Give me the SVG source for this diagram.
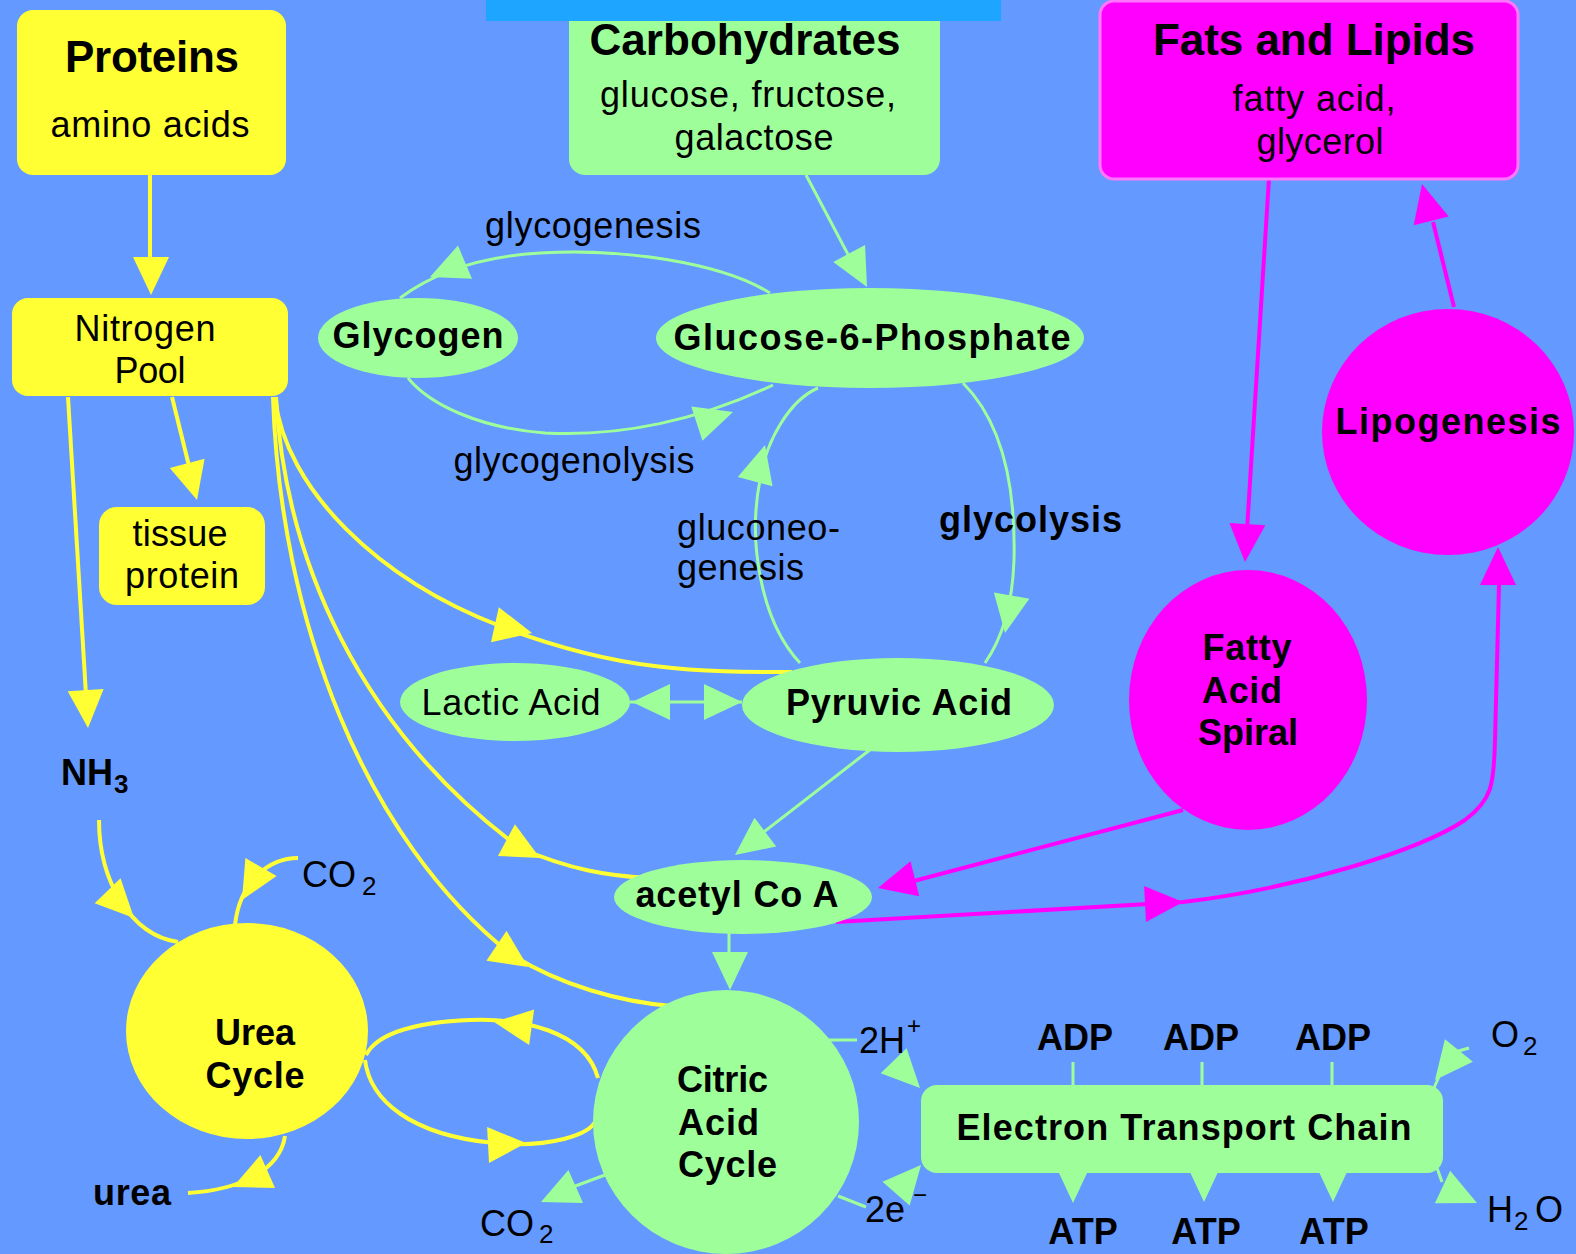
<svg xmlns="http://www.w3.org/2000/svg" xmlns:xlink="http://www.w3.org/1999/xlink" width="1576" height="1254" viewBox="0 0 1576 1254">
<style>
.y{fill:#FFFF33}
.g{fill:#9EFF9A}
.m{fill:#FF00FF}
.ly{stroke:#FFFF33;stroke-width:4;fill:none}
.lg{stroke:#9EFF9A;stroke-width:3;fill:none}
.lm{stroke:#FF00FF;stroke-width:4;fill:none}
text{font-family:"Liberation Sans",Arial,sans-serif;fill:#000;font-size:36px}
.b{font-weight:bold}
.c{text-anchor:middle}
.t{font-size:44px;font-weight:bold;text-anchor:middle}
.sub{font-size:26px}
</style>
<defs>
<path id="ah" d="M0,0 L-38,-18 L-38,18 Z"/>
<path id="ahs" d="M0,0 L-30,-14 L-30,14 Z"/>
</defs>
<rect width="1576" height="1254" fill="#6499FF"/>

<g id="connectors">
 <g id="yellow-lines">
  <path class="ly" d="M150,175 L150,262"/>
  <path class="ly" d="M172,397 L190,470"/>
  <path class="ly" d="M68,397 L86,695"/>
  <path class="ly" d="M275,397 C285,490 380,580 500,626 S700,672 792,672"/>
  <path class="ly" d="M276,397 C285,560 360,730 520,848 C570,870 610,876 648,878"/>
  <path class="ly" d="M273,397 C280,620 365,840 512,955 C560,985 620,1002 672,1006"/>
  <path class="ly" d="M99,820 C99,880 130,935 178,942"/>
  <path class="ly" d="M298,858 C270,858 240,880 235,925"/>
  <path class="ly" d="M285,1136 C280,1170 240,1190 188,1193"/>
  <path class="ly" d="M598,1078 C585,1030 520,1018 470,1020 C420,1022 378,1032 366,1055"/>
  <path class="ly" d="M365,1060 C370,1100 410,1135 494,1143 C550,1148 590,1135 596,1120"/>
 </g>
 <g id="green-lines">
  <path class="lg" d="M806,175 L852,262"/>
  <path class="lg" d="M770,293 C720,262 620,248 540,253 C490,256 440,268 400,298"/>
  <path class="lg" d="M408,378 C430,405 480,428 545,433 C620,437 700,420 773,385"/>
  <path class="lg" d="M800,663 C760,620 748,540 760,480 C766,440 790,400 818,388"/>
  <path class="lg" d="M963,383 C1000,420 1016,480 1014,560 C1013,590 1008,630 985,663"/>
  <path class="lg" d="M630,702 L742,702"/>
  <path class="lg" d="M871,749 L760,835"/>
  <path class="lg" d="M729,933 L729,960"/>
  <path class="lg" d="M605,1175 L570,1188"/>
  <path class="lg" stroke-width="2" d="M829,1040 L857,1040"/>
  <path class="lg" stroke-width="2" d="M838,1196 L866,1207"/>
  <path class="lg" d="M1073,1062 L1073,1086 M1202,1062 L1202,1086 M1332,1062 L1332,1086"/>
  <path class="lg" d="M1433,1090 L1442,1070 M1455,1052 L1469,1048"/>
  <path class="lg" d="M1437,1168 L1442,1182"/>
 </g>
 <g id="magenta-lines">
  <path class="lm" d="M1269,178 L1247,530"/>
  <path class="lm" d="M1454,307 L1433,222"/>
  <path class="lm" d="M1183,810 L910,882"/>
  <path class="lm" d="M836,922 L1183,902 C1300,888 1420,850 1465,820 C1492,800 1494,785 1495,740 L1499,585"/>
 </g>
 <g id="arrowheads">
  <use href="#ah" class="y" transform="translate(151,295) rotate(90)"/>
  <use href="#ah" class="y" transform="translate(197,500) rotate(75)"/>
  <use href="#ah" class="y" transform="translate(88,728) rotate(86.5)"/>
  <use href="#ah" class="y" transform="translate(532,633) rotate(12.5)"/>
  <use href="#ah" class="y" transform="translate(540,858) rotate(28)"/>
  <use href="#ah" class="y" transform="translate(528,967) rotate(34)"/>
  <use href="#ah" class="y" transform="translate(134,918) rotate(46)"/>
  <use href="#ah" class="y" transform="translate(242,900) rotate(120)"/>
  <use href="#ah" class="y" transform="translate(233,1187) rotate(156)"/>
  <use href="#ah" class="y" transform="translate(494,1022) rotate(188)"/>
  <use href="#ah" class="y" transform="translate(526,1143) rotate(-3)"/>

  <use href="#ah" class="g" transform="translate(867,287) rotate(62)"/>
  <use href="#ah" class="g" transform="translate(430,277) rotate(157)"/>
  <use href="#ah" class="g" transform="translate(733,412) rotate(-18)"/>
  <use href="#ah" class="g" transform="translate(765,445) rotate(-75)"/>
  <use href="#ah" class="g" transform="translate(1005,633) rotate(100)"/>
  <use href="#ah" class="g" transform="translate(632,702) rotate(180)"/>
  <use href="#ah" class="g" transform="translate(742,702)"/>
  <use href="#ah" class="g" transform="translate(735,855) rotate(143)"/>
  <use href="#ah" class="g" transform="translate(730,990) rotate(90)"/>
  <use href="#ah" class="g" transform="translate(541,1202) rotate(156)"/>
  <use href="#ah" class="g" transform="translate(920,1088) rotate(46)"/>
  <use href="#ah" class="g" transform="translate(921,1165) rotate(-49)"/>
  <use href="#ah" class="g" transform="translate(1435,1080) rotate(129)"/>
  <use href="#ah" class="g" transform="translate(1477,1203) rotate(25)"/>
  <use href="#ahs" class="g" transform="translate(1073,1203) rotate(90)"/>
  <use href="#ahs" class="g" transform="translate(1204,1202) rotate(90)"/>
  <use href="#ahs" class="g" transform="translate(1333,1202) rotate(90)"/>

  <use href="#ah" class="m" transform="translate(1245,562) rotate(93.6)"/>
  <use href="#ah" class="m" transform="translate(1422,184) rotate(-104)"/>
  <use href="#ah" class="m" transform="translate(878,888) rotate(166)"/>
  <use href="#ah" class="m" transform="translate(1183,902) rotate(-3)"/>
  <use href="#ah" class="m" transform="translate(1498,547) rotate(-90)"/>
 </g>
</g>

<g id="proteins">
 <rect class="y" x="17" y="10" width="269" height="165" rx="16"/>
 <text class="t" x="152" y="72" textLength="174">Proteins</text>
 <text class="c" x="150" y="137" textLength="199">amino acids</text>
</g>
<g id="carbohydrates">
 <rect class="g" x="569" y="2" width="371" height="173" rx="16"/>
 <text class="t" x="745" y="55" textLength="311">Carbohydrates</text>
 <text class="c" x="748" y="107" textLength="296">glucose, fructose,</text>
 <text class="c" x="754" y="150" textLength="159">galactose</text>
</g>
<rect id="top-bar" x="486" y="0" width="515" height="21" fill="#1EA5FF"/>
<g id="fats">
 <rect class="m" x="1100" y="1" width="418" height="178" rx="14" stroke="#FF77FF" stroke-width="3"/>
 <text class="t" x="1314" y="55" textLength="322">Fats and Lipids</text>
 <text class="c" x="1314" y="111" textLength="163">fatty acid,</text>
 <text class="c" x="1320" y="154" textLength="127">glycerol</text>
</g>
<g id="nitrogen-pool">
 <rect class="y" x="12" y="298" width="276" height="98" rx="16"/>
 <text class="c" x="145" y="341" textLength="141">Nitrogen</text>
 <text class="c" x="150" y="383" textLength="71">Pool</text>
</g>
<g id="tissue-protein">
 <rect class="y" x="99" y="507" width="166" height="98" rx="18"/>
 <text class="c" x="180" y="546" textLength="95">tissue</text>
 <text class="c" x="182" y="588" textLength="114">protein</text>
</g>
<g id="glycogen">
 <ellipse class="g" cx="418" cy="338" rx="100" ry="40"/>
 <text class="c b" x="418" y="348" font-size="35" textLength="171">Glycogen</text>
</g>
<g id="glucose-6-phosphate">
 <ellipse class="g" cx="870" cy="338" rx="214" ry="50"/>
 <text class="c b" x="872" y="350" font-size="35" textLength="397">Glucose-6-Phosphate</text>
</g>
<g id="lactic-acid">
 <ellipse class="g" cx="515" cy="702" rx="115" ry="39"/>
 <text class="c" x="511" y="715" font-size="35" textLength="179">Lactic Acid</text>
</g>
<g id="pyruvic-acid">
 <ellipse class="g" cx="898" cy="705" rx="156" ry="47"/>
 <text class="c b" x="899" y="715" font-size="35" textLength="226">Pyruvic Acid</text>
</g>
<g id="acetyl-coa">
 <ellipse class="g" cx="743" cy="897" rx="129" ry="37"/>
 <text class="c b" x="737" y="907" font-size="35" textLength="203">acetyl Co A</text>
</g>
<g id="lipogenesis">
 <ellipse class="m" cx="1448" cy="432" rx="126" ry="123"/>
 <text class="c b" x="1448" y="434" font-size="36" textLength="225">Lipogenesis</text>
</g>
<g id="fatty-acid-spiral">
 <ellipse class="m" cx="1248" cy="700" rx="119" ry="130"/>
 <text class="c b" x="1247" y="660" font-size="35" textLength="89">Fatty</text>
 <text class="c b" x="1242" y="703" font-size="35" textLength="80">Acid</text>
 <text class="c b" x="1248" y="745" font-size="35" textLength="100">Spiral</text>
</g>
<g id="urea-cycle">
 <ellipse class="y" cx="247" cy="1031" rx="121" ry="108"/>
 <text class="c b" x="255" y="1045" font-size="35" textLength="80">Urea</text>
 <text class="c b" x="255" y="1088" font-size="35" textLength="99">Cycle</text>
</g>
<g id="citric-acid-cycle">
 <ellipse class="g" cx="726" cy="1122" rx="133" ry="132"/>
 <text class="b" x="677" y="1092" font-size="35" textLength="91">Citric</text>
 <text class="b" x="678" y="1135" font-size="35" textLength="81">Acid</text>
 <text class="b" x="678" y="1177" font-size="35" textLength="99">Cycle</text>
</g>
<g id="electron-transport-chain">
 <rect class="g" x="921" y="1085" width="522" height="88" rx="16"/>
 <text class="c b" x="1184" y="1140" font-size="35" textLength="455">Electron Transport Chain</text>
</g>

<g id="labels">
 <text class="c" x="593" y="238" textLength="216">glycogenesis</text>
 <text class="c" x="574" y="473" textLength="241">glycogenolysis</text>
 <text x="677" y="540" textLength="163">gluconeo-</text>
 <text x="677" y="580" textLength="127">genesis</text>
 <text class="b" x="939" y="532" textLength="183">glycolysis</text>
 <text class="b" x="61" y="785">NH<tspan class="sub" x="114" y="793">3</tspan></text>
 <text x="302" y="887" font-size="37">CO<tspan class="sub" x="362" y="895">2</tspan></text>
 <text class="b" x="93" y="1205" textLength="78">urea</text>
 <text x="480" y="1236" font-size="37">CO<tspan class="sub" x="539" y="1243">2</tspan></text>
 <text x="859" y="1053" font-size="37">2H<tspan font-size="24" x="907" y="1034">+</tspan></text>
 <text x="865" y="1222" font-size="37">2e<tspan font-size="24" x="913" y="1203">−</tspan></text>
 <text class="c b" x="1075" y="1050" font-size="34">ADP</text>
 <text class="c b" x="1201" y="1050" font-size="34">ADP</text>
 <text class="c b" x="1333" y="1050" font-size="34">ADP</text>
 <text class="c b" x="1083" y="1244" font-size="35">ATP</text>
 <text class="c b" x="1206" y="1244" font-size="35">ATP</text>
 <text class="c b" x="1334" y="1244" font-size="35">ATP</text>
 <text x="1491" y="1047" font-size="37">O<tspan class="sub" x="1523" y="1055">2</tspan></text>
 <text x="1487" y="1222" font-size="37">H<tspan class="sub" x="1514" y="1230">2</tspan><tspan x="1535" y="1222">O</tspan></text>
</g>
</svg>
